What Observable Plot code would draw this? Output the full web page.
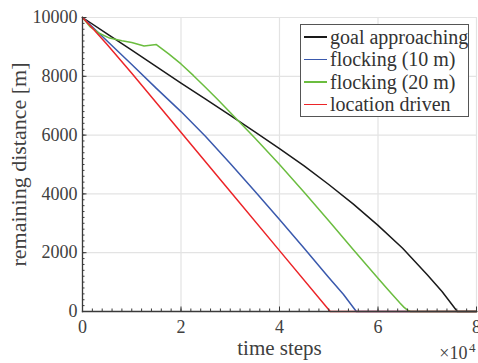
<!DOCTYPE html>
<html>
<head>
<meta charset="utf-8">
<script src="https://cdn.jsdelivr.net/npm/d3@7"></script>
<script src="https://cdn.jsdelivr.net/npm/@observablehq/plot@0.6"></script>
<style>
  html, body { margin: 0; padding: 0; background: #fff; }
  #wrap { position: relative; width: 478px; height: 363px; overflow: hidden; }
  #legend {
    position: absolute; left: 300px; top: 24px; width: 167px; height: 91px;
    border: 1px solid #555; background: #fff;
    font-family: "Liberation Serif", "DejaVu Serif", serif; font-size: 20px; color: #333;
  }
  #legend .row { position: absolute; left: 0; height: 22px; display: flex; align-items: center; white-space: nowrap; }
  #legend .sw { width: 23px; height: 1.6px; margin-left: 3px; margin-right: 3px; }
</style>
</head>
<body>
<div id="wrap"></div>
<script>
// Series (x in units of 10^4 time steps, y remaining distance in m)
const seriesNames = ["goal approaching", "flocking (10 m)", "flocking (20 m)", "location driven"];
const seriesColors = ["#1a1a1a", "#3a59ad", "#6bbd3f", "#ec2428"];

const goalX = [0, 0.5, 1, 1.5, 2, 2.5, 3, 3.5, 4, 4.5, 5, 5.5, 6, 6.5, 7, 7.3, 7.61, 8];
const goalY = [10000, 9440, 8890, 8330, 7770, 7220, 6670, 6110, 5540, 4950, 4320, 3650, 2930, 2150, 1250, 680, 0, 0];

const flock10X = [0, 0.5, 1, 1.5, 2, 2.5, 3, 3.5, 4, 4.5, 5, 5.3, 5.56, 8];
const flock10Y = [10000, 9200, 8400, 7590, 6800, 5950, 5030, 4090, 3130, 2150, 1160, 580, 0, 0];

const flock20X = [0, 0.15, 0.35, 0.55, 0.8, 1.0, 1.25, 1.5, 1.75, 2, 2.25, 2.5, 2.75, 3, 3.5, 4, 4.5, 5, 5.5, 6, 6.2, 6.35, 6.45, 6.53, 6.6, 6.66, 8];
const flock20Y = [10000, 9690, 9455, 9300, 9210, 9150, 9030, 9080, 8760, 8420, 8030, 7620, 7200, 6770, 5900, 5000, 4060, 3090, 2100, 1130, 750, 470, 280, 140, 45, 0, 0];

const locX = [0, 0.2, 0.5, 1, 1.88, 3, 4, 5.03, 8];
const locY = [10000, 9640, 9080, 8100, 6333, 4080, 2070, 0, 0];

const xTicks = [0, 2, 4, 6, 8];
const yTicks = [0, 2000, 4000, 6000, 8000, 10000];
const xMinor = d3.range(0, 8.001, 0.2);
const yMinor = d3.range(0, 10001, 200);

const xLabel = "time steps";
const yLabel = "remaining distance [m]";
const xExp = "×10";
const xExpPow = "4";

const allX = [goalX, flock10X, flock20X, locX];
const allY = [goalY, flock10Y, flock20Y, locY];
const rows = [];
allX.forEach((xs, i) => xs.forEach((x, j) => rows.push({series: seriesNames[i], x, y: allY[i][j]})));

const axisColor = "#3a3a3a";
const gridColor = "#e3e3e3";
const textColor = "#404040";
const serif = "'Liberation Serif', 'DejaVu Serif', serif";

const chart = Plot.plot({
  width: 478,
  height: 363,
  marginLeft: 82,
  marginRight: 2,
  marginTop: 17,
  marginBottom: 52,
  style: {fontFamily: serif, fontSize: "18px", color: textColor, background: "#fff", overflow: "visible"},
  x: {domain: [0, 8]},
  y: {domain: [0, 10000]},
  color: {domain: seriesNames, range: seriesColors},
  marks: [
    Plot.gridX(xTicks, {stroke: gridColor, strokeOpacity: 1, strokeWidth: 1.2}),
    Plot.gridY(yTicks, {stroke: gridColor, strokeOpacity: 1, strokeWidth: 1.2}),
    Plot.line(rows, {x: "x", y: "y", z: "series", stroke: "series", strokeWidth: 1.5}),
    // inward ticks
    Plot.axisX(xMinor, {tickSize: 2.5, dy: -2.5, text: null, label: null, stroke: axisColor}),
    Plot.axisX(xTicks, {tickSize: 4.5, dy: -4.5, text: null, label: null, stroke: axisColor}),
    Plot.axisY(yMinor, {tickSize: 2.5, dx: 2.5, text: null, label: null, stroke: axisColor}),
    Plot.axisY(yTicks, {tickSize: 4.5, dx: 4.5, text: null, label: null, stroke: axisColor}),
    Plot.axisX(xTicks, {tickSize: 0, tickPadding: 8.5, label: null, fill: textColor, tickFormat: d3.format("d")}),
    Plot.axisY(yTicks, {tickSize: 0, tickPadding: 5, label: null, fill: textColor, tickFormat: d3.format("d")}),
    Plot.frame({anchor: "bottom", stroke: axisColor, strokeWidth: 1.3}),
    Plot.frame({anchor: "left", stroke: axisColor, strokeWidth: 1.3}),
    Plot.text([xLabel], {frameAnchor: "bottom", text: d => d, dy: 37, fontSize: 21, fill: textColor, textAnchor: "middle", lineAnchor: "middle"}),
    Plot.text([yLabel], {frameAnchor: "left", text: d => d, dx: -64, rotate: -90, fontSize: 22, fill: textColor, textAnchor: "middle", lineAnchor: "middle"}),
    Plot.text([xExp], {frameAnchor: "bottom-right", text: d => d, dy: 42, dx: -9, textAnchor: "end", lineAnchor: "middle", fontSize: 18, fill: textColor}),
    Plot.text([xExpPow], {frameAnchor: "bottom-right", text: d => d, dy: 36.5, dx: -1, textAnchor: "end", lineAnchor: "middle", fontSize: 13, fill: textColor})
  ]
});

const wrap = document.getElementById("wrap");
wrap.appendChild(chart);

const legend = document.createElement("div");
legend.id = "legend";
seriesNames.forEach((name, i) => {
  const row = document.createElement("div");
  row.className = "row";
  row.style.top = (1 + i * 22.5) + "px";
  const sw = document.createElement("span");
  sw.className = "sw";
  sw.style.background = seriesColors[i];
  const t = document.createElement("span");
  t.textContent = name;
  row.appendChild(sw);
  row.appendChild(t);
  legend.appendChild(row);
});
wrap.appendChild(legend);
</script>
</body>
</html>
